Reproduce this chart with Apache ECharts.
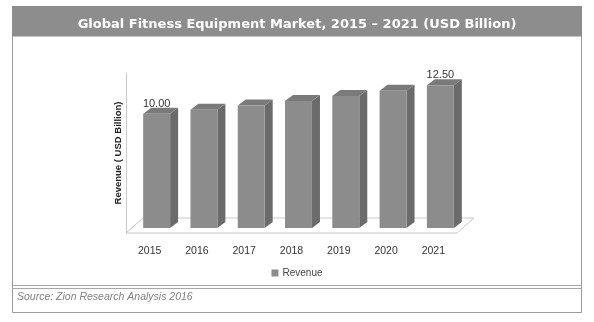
<!DOCTYPE html>
<html>
<head>
<meta charset="utf-8">
<script src="https://cdn.jsdelivr.net/npm/echarts@6/dist/echarts.min.js"></script>
<style>
  html, body { margin: 0; padding: 0; background: #ffffff; }
  #chart { width: 594px; height: 322px; }
</style>
</head>
<body>
<div id="chart"></div>
<script>
// Revenue by year, USD billion
const years = ['2015', '2016', '2017', '2018', '2019', '2020', '2021'];
const revenue = [10.00, 10.35, 10.72, 11.12, 11.55, 12.02, 12.50];
// only the first and last columns carry a value label
const labelled = [true, false, false, false, false, false, true];

const FRONT = '#8c8c8c';
const SIDE = '#6b6b6b';
const TOP = '#7a7a7a';

const chart = echarts.init(document.getElementById('chart'), null, { renderer: 'canvas' });

// draws one column as a pseudo-3D box standing in the middle of the floor
function renderColumn(params, api) {
  const i = api.value(0);
  const v = api.value(1);
  const base = api.coord([i, 0]);
  const top = api.coord([i, v]);
  const band = api.size([1, 0])[0];
  const w = band * 0.57;
  const sx = 7, sy = -5;      // position inside the floor depth
  const dx = 8, dy = -6;      // depth of the box itself
  const x0 = base[0] + sx - w / 2;
  const x1 = x0 + w;
  const yb = base[1] + sy;
  const yt = top[1] + sy;
  const children = [
    { type: 'polygon', shape: { points: [[x1, yb], [x1 + dx, yb + dy], [x1 + dx, yt + dy], [x1, yt]] },
      style: { fill: SIDE } },
    { type: 'polygon', shape: { points: [[x0, yt], [x1, yt], [x1 + dx, yt + dy], [x0 + dx, yt + dy]] },
      style: { fill: TOP } },
    { type: 'rect', shape: { x: x0, y: yt, width: w, height: yb - yt },
      style: { fill: FRONT } }
  ];
  if (labelled[params.dataIndex]) {
    children.push({
      type: 'text',
      style: {
        text: v.toFixed(2), x: x0 + w / 2, y: yt - 10,
        align: 'center', verticalAlign: 'middle',
        fill: '#333333', font: '11px "Liberation Sans", Arial, sans-serif'
      }
    });
  }
  return { type: 'group', children: children };
}

// floor of the plot: a flat parallelogram under the columns
function renderFloor(params, api) {
  const cs = params.coordSys;
  const yb = cs.y + cs.height;
  const x0 = cs.x, x1 = cs.x + cs.width;
  const dx = 17, dy = -15;
  return {
    type: 'polygon',
    shape: { points: [[x0, yb], [x1, yb], [x1 + dx, yb + dy], [x0 + dx, yb + dy]] },
    style: { fill: '#ffffff', stroke: '#c9c9c9', lineWidth: 1 },
    silent: true
  };
}

const option = {
  animation: false,
  backgroundColor: '#ffffff',
  title: {
    text: 'Global Fitness Equipment Market, 2015 \u2013 2021 (USD Billion)',
    left: 'center',
    top: 13,
    textStyle: { color: '#ffffff', fontSize: 13, fontWeight: 'bold', fontFamily: '"DejaVu Sans", Verdana, sans-serif' }
  },
  legend: {
    data: ['Revenue'],
    bottom: 39,
    left: 'center',
    icon: 'rect',
    itemWidth: 7,
    itemHeight: 7,
    itemGap: 4,
    textStyle: { color: '#444444', fontSize: 10, fontFamily: '"Liberation Sans", Arial, sans-serif', padding: [0, 0, 0, -1] }
  },
  grid: { left: 126, top: 73, width: 331, height: 160 },
  xAxis: {
    type: 'category',
    data: years,
    axisLine: { show: false },
    axisTick: { show: false },
    axisLabel: { color: '#333333', fontSize: 10.5, margin: 13, fontFamily: '"Liberation Sans", Arial, sans-serif' }
  },
  yAxis: {
    type: 'value',
    min: 0,
    max: 14,
    interval: 2,
    name: 'Revenue ( USD Billion)',
    nameLocation: 'middle',
    nameGap: 3,
    nameTextStyle: { color: '#222222', fontSize: 9.5, fontWeight: 'bold', fontFamily: '"Liberation Sans", Arial, sans-serif' },
    axisLine: { show: true, lineStyle: { color: '#c9c9c9', width: 1 } },
    axisTick: { show: false },
    axisLabel: { show: false },
    splitLine: { show: false }
  },
  graphic: [
    { type: 'rect', z: -10, shape: { x: 12.5, y: 6.5, width: 569, height: 306 },
      style: { fill: '#ffffff', stroke: '#9a9a9a', lineWidth: 1 } },
    { type: 'rect', z: -9, shape: { x: 12, y: 6, width: 570, height: 30.5 },
      style: { fill: '#8d8d8d' } },
    { type: 'line', z: -8, shape: { x1: 12.5, y1: 285.5, x2: 581.5, y2: 285.5 },
      style: { stroke: '#a8a8a8', lineWidth: 1 } },
    { type: 'line', z: -8, shape: { x1: 12.5, y1: 288.5, x2: 581.5, y2: 288.5 },
      style: { stroke: '#a8a8a8', lineWidth: 1 } },
    { type: 'text', left: 17, top: 292,
      style: { text: 'Source: Zion Research Analysis 2016', fill: '#808080',
        font: 'italic 10.5px "Liberation Sans", Arial, sans-serif' } }
  ],
  series: [
    {
      name: 'floor',
      type: 'custom',
      renderItem: renderFloor,
      data: [[0, 0]],
      silent: true,
      z: 1
    },
    {
      name: 'Revenue',
      type: 'custom',
      renderItem: renderColumn,
      itemStyle: { color: FRONT },
      encode: { x: 0, y: 1 },
      data: years.map((y, i) => [i, revenue[i]]),
      z: 2
    }
  ]
};

chart.setOption(option);
</script>
</body>
</html>
